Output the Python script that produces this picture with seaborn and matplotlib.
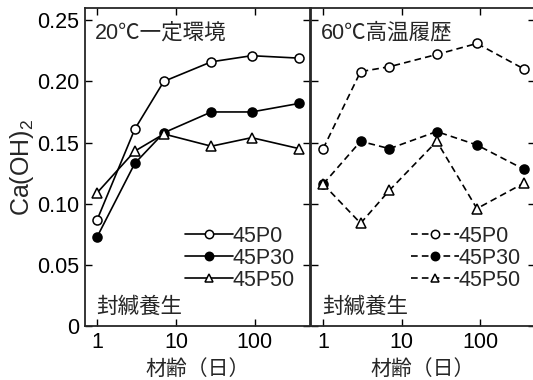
import numpy as np
import pandas as pd
import matplotlib
matplotlib.use("Agg")
import matplotlib.pyplot as plt
import seaborn as sns
from matplotlib.lines import Line2D

sns.set_style("ticks")
plt.rcParams['font.family'] = ['Liberation Sans', 'Noto Sans CJK JP', 'DejaVu Sans']
plt.rcParams['mathtext.fontset'] = 'custom'
plt.rcParams['mathtext.rm'] = 'Liberation Sans'

# Data
ages = [1, 3, 7, 28, 91, 365]
series = ["45P0", "45P30", "45P50"]
left_p0 = [0.087, 0.161, 0.200, 0.216, 0.221, 0.219]
left_p30 = [0.073, 0.133, 0.158, 0.175, 0.175, 0.182]
left_p50 = [0.109, 0.143, 0.157, 0.147, 0.154, 0.145]
right_p0 = [0.145, 0.208, 0.212, 0.222, 0.231, 0.210]
right_p30 = [0.116, 0.151, 0.145, 0.159, 0.148, 0.128]
right_p50 = [0.116, 0.084, 0.111, 0.151, 0.096, 0.117]
yticks = [0, 0.05, 0.10, 0.15, 0.20, 0.25]
yticklabels = ["0", "0.05", "0.10", "0.15", "0.20", "0.25"]
xticks = [1, 10, 100]
xticklabels = ["1", "10", "100"]
panel_titles = ["20℃一定環境", "60℃高温履歴"]
curing = "封緘養生"
xlabel = "材齢（日）"
ylabel = "Ca(OH)$_2$"

W, H = 533, 380
fig = plt.figure(figsize=(W / 100, H / 100), dpi=100)

def px_axes(x0, x1, y0, y1):
    return fig.add_axes([x0 / W, (H - y1) / H, (x1 - x0) / W, (y1 - y0) / H])

axL = px_axes(85, 310, 8, 326)
axR = px_axes(311, 535, 8, 326)

styles = {
    "45P0": dict(marker='o', markerfacecolor='white'),
    "45P30": dict(marker='o', markerfacecolor='black'),
    "45P50": dict(marker='^', markerfacecolor='white'),
}

panels = [
    (axL, [left_p0, left_p30, left_p50], '-', panel_titles[0]),
    (axR, [right_p0, right_p30, right_p50], (0, (4, 2.5)), panel_titles[1]),
]

FS = 15.5
for i, (ax, vals, ls, title) in enumerate(panels):
    handles = []
    for name, v in zip(series, vals):
        df = pd.DataFrame({"age": ages, "val": v})
        sns.lineplot(data=df, x="age", y="val", ax=ax, color='black',
                     linestyle=ls, linewidth=1.2, markersize=6.5,
                     markeredgecolor='black', markeredgewidth=1.1,
                     **styles[name])
        handles.append(Line2D([], [], color='black', linestyle=ls, linewidth=1.2,
                              markersize=6, markeredgecolor='black',
                              markeredgewidth=1.1, **styles[name], label=name))
    ax.set_xscale('log')
    ax.set_xlim(0.7, 500)
    ax.set_ylim(0, 0.26)
    ax.set_xticks(xticks)
    ax.set_xticklabels(xticklabels, fontsize=FS)
    ax.xaxis.set_minor_locator(matplotlib.ticker.NullLocator())
    ax.set_yticks(yticks)
    if i == 0:
        ax.set_yticklabels(yticklabels, fontsize=FS)
        ax.set_ylabel(ylabel, fontsize=18, labelpad=1)
    else:
        ax.set_yticklabels([])
        ax.set_ylabel("")
    ax.set_xlabel(xlabel, fontsize=15, labelpad=5)
    ax.tick_params(direction='in', top=True, right=True, length=5, width=1,
                   pad=4, colors='black')
    for s in ax.spines.values():
        s.set_linewidth(1.3)
        s.set_visible(True)
    ax.text(0.045, 0.955, title, transform=ax.transAxes, fontsize=FS,
            va='top', ha='left')
    ax.text(0.05, 0.025, curing, transform=ax.transAxes, fontsize=FS,
            va='bottom', ha='left')
    leg = ax.legend(handles=handles, loc='lower right',
                    bbox_to_anchor=(0.99 if i == 0 else 0.995, 0.07),
                    frameon=False, fontsize=FS, handlelength=2.2,
                    handletextpad=0.0, labelspacing=0.05, borderaxespad=0.2)

fig.savefig("out.png", dpi=100)
